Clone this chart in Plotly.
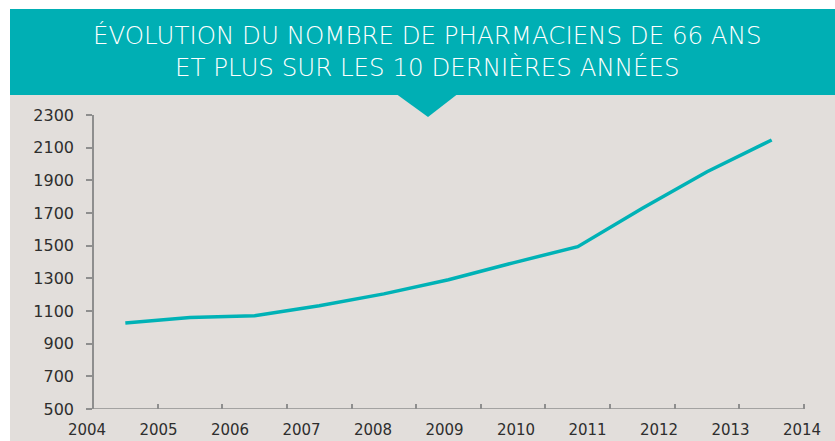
import plotly.graph_objects as go

# ---- data ----
years = [2004, 2005, 2006, 2007, 2008, 2009, 2010, 2011, 2012, 2013, 2014]
values = [1026, 1060, 1071, 1132, 1205, 1291, 1395, 1494, 1729, 1953, 2147]
y_ticks = [500, 700, 900, 1100, 1300, 1500, 1700, 1900, 2100, 2300]
title_lines = ["ÉVOLUTION DU NOMBRE DE PHARMACIENS DE 66 ANS",
               "ET PLUS SUR LES 10 DERNIÈRES ANNÉES"]

# ---- layout constants (pixels) ----
W, H = 835, 441
L, R, T, B = 78, 17, 115, 32
PW, PH = W - L - R, H - T - B
AX0, AX1 = 93, 804          # axis line extent
LAB0, LAB_STEP = 87, 71.5   # year label positions

TEAL = "#00AFB4"
BG = "#E2DEDB"
AXC = "#8E8E8E"
TXT = "#2E2E2E"

n = len(values)
slot = (AX1 - AX0) / n
xr = [(L - AX0) / slot, (L + PW - AX0) / slot]
x2r = [years[0] + (L - LAB0) / LAB_STEP, years[0] + (L + PW - LAB0) / LAB_STEP]


def px(x):
    return (x - L) / PW


def py(y):
    return (H - B - y) / PH


fig = go.Figure()
fig.add_trace(go.Scatter(
    x=[i + 0.5 for i in range(n)], y=values, mode="lines",
    line=dict(color="#00B2B6", width=3.5), hoverinfo="skip", showlegend=False,
    cliponaxis=False))
# invisible trace on label axis
fig.add_trace(go.Scatter(x=years, y=[None] * n, xaxis="x2", showlegend=False,
                         hoverinfo="skip", mode="markers"))

shapes = [
    dict(type="rect", xref="paper", yref="paper", x0=px(0), x1=px(W), y0=py(H), y1=py(0),
         fillcolor="white", line_width=0, layer="below"),
    dict(type="rect", xref="paper", yref="paper", x0=px(10), x1=px(W), y0=py(H), y1=py(95),
         fillcolor=BG, line_width=0, layer="below"),
    dict(type="rect", xref="paper", yref="paper", x0=px(10), x1=px(W), y0=py(95), y1=py(9),
         fillcolor=TEAL, line_width=0, layer="below"),
    dict(type="path", xref="paper", yref="paper",
         path=f"M {px(397)},{py(94.5)} L {px(457)},{py(94.5)} L {px(428)},{py(117)} Z",
         fillcolor=TEAL, line_width=0, layer="below"),
    dict(type="line", xref="x", yref="y", x0=0, x1=n, y0=y_ticks[0], y1=y_ticks[0],
         line=dict(color=AXC, width=1.5)),
]

fig.update_layout(
    width=W, height=H, autosize=False,
    margin=dict(l=L, r=R, t=T, b=B, autoexpand=False),
    paper_bgcolor="white", plot_bgcolor="rgba(0,0,0,0)",
    shapes=shapes,
    xaxis=dict(range=xr, tickmode="array", tickvals=list(range(n + 1)),
               showticklabels=False, ticks="inside", ticklen=5, tickwidth=1.5,
               tickcolor=AXC, showgrid=False, zeroline=False, showline=False,
               automargin=False),
    xaxis2=dict(range=x2r, overlaying="x", side="bottom", anchor="y",
                tickmode="array", tickvals=years, ticktext=[str(y) for y in years],
                ticks="", showgrid=False, zeroline=False, showline=False,
                ticklabelstandoff=10, automargin=False,
                tickfont=dict(family="DejaVu Sans", size=15, color=TXT)),
    yaxis=dict(range=[y_ticks[0], y_ticks[-1]], tickmode="array", tickvals=y_ticks,
               anchor="free", position=(AX0 - L) / PW, automargin=False,
               showline=True, linecolor=AXC, linewidth=1.5,
               ticks="outside", ticklen=6, tickwidth=1.5, tickcolor=AXC,
               showgrid=False, zeroline=False, ticklabelstandoff=9,
               tickfont=dict(family="DejaVu Sans", size=16, color=TXT)),
    annotations=[dict(text="<br>".join(title_lines), xref="paper", yref="paper",
                      x=px(427), y=py(51), xanchor="center", yanchor="middle",
                      showarrow=False, align="center",
                      font=dict(family="DejaVu Sans", size=24.5, color="white", weight=200))],
)

fig.write_html("out.html", config={"displayModeBar": False, "responsive": False},
               post_script="document.body.style.margin='0';")
